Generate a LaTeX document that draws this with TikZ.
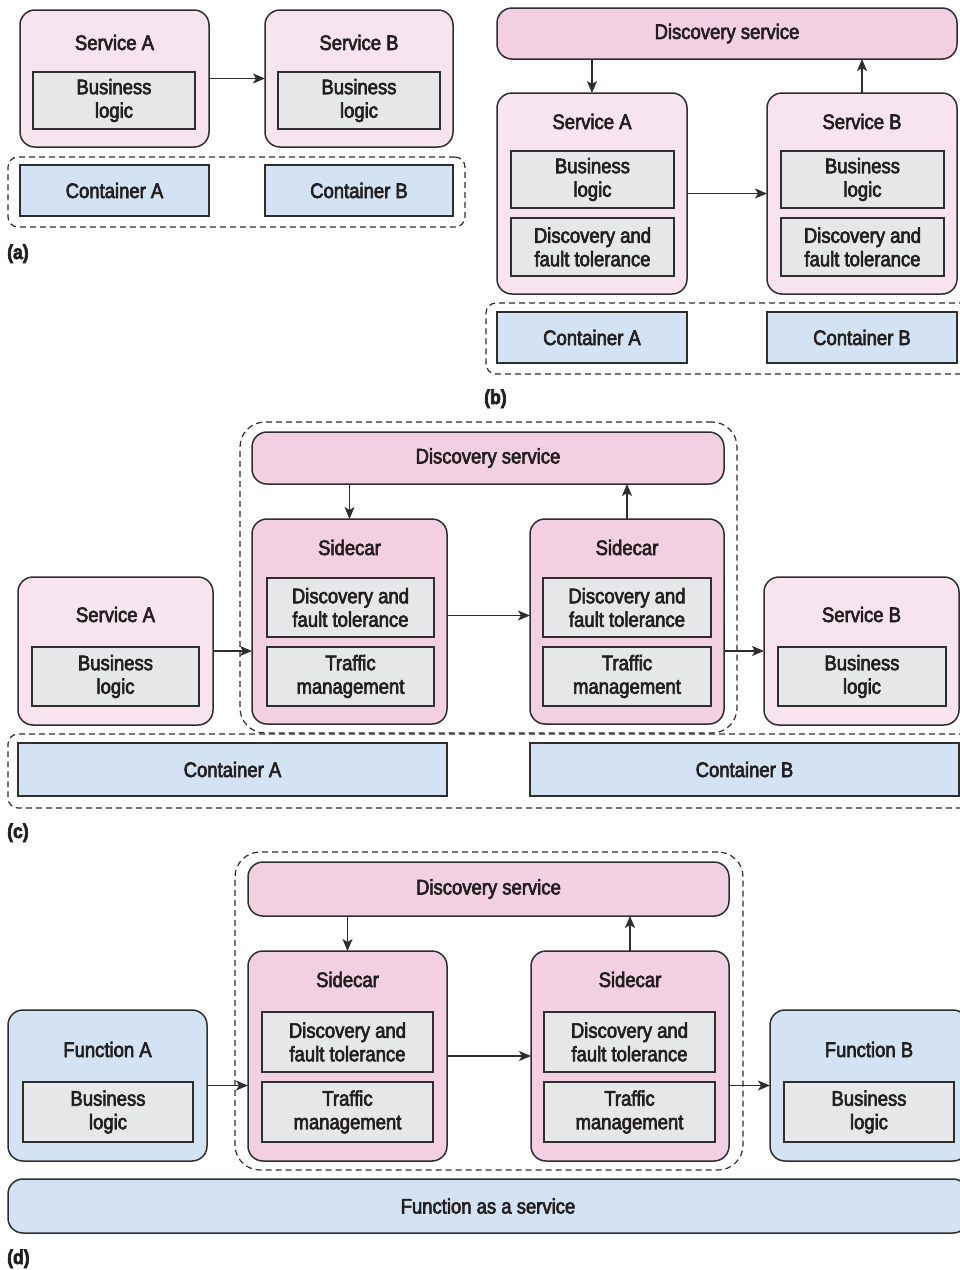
\documentclass[tikz,border=0pt]{standalone}
\usepackage{fontspec}
\setmainfont{Liberation Sans}[FakeStretch=0.88,FakeBold=3]
\usetikzlibrary{arrows.meta}
\definecolor{pinkA}{HTML}{F8E4EE}
\definecolor{pinkB}{HTML}{F2D0E1}
\definecolor{greyC}{HTML}{E6E7E9}
\definecolor{blueC}{HTML}{D3E3F3}
\definecolor{edgec}{HTML}{2E2E2E}
\definecolor{txtc}{HTML}{231F20}
\newcommand\mybox[7]{\node[#1, minimum width={(#5-#3)*1pt}, minimum height={(#6-#4)*1pt}] (#2) at ({(#3+#5)/2},{(#4+#6)/2}) {#7};}
\tikzset{
  basebox/.style={draw=edgec, line width=1.5pt, inner sep=0pt, outer sep=0pt, text=txtc,
    font=\fontsize{21}{23.5}\selectfont, align=center},
  svc/.style={basebox, fill=pinkA, rounded corners=15pt},
  side/.style={basebox, fill=pinkB, rounded corners=15pt},
  fun/.style={basebox, fill=blueC, rounded corners=15pt},
  innerbox/.style={basebox, fill=greyC},
  cont/.style={basebox, fill=blueC},
  grp/.style={draw=edgec, line width=1.2pt, dash pattern=on 6pt off 4pt, rounded corners=10pt,
    inner sep=0pt, outer sep=0pt},
  ttl/.style={text=txtc, font=\fontsize{21}{23.5}\selectfont, inner sep=0pt, anchor=base},
  plabel/.style={text=txtc, font=\bfseries\fontsize{20}{24}\selectfont, anchor=base west, inner sep=0pt},
  arr/.style={draw=edgec, line width=1.4pt, -{Stealth[length=12pt,width=10pt,inset=3pt]}}
}
\begin{document}
\begin{tikzpicture}[x=1pt,y=-1pt]
\useasboundingbox (0,0) rectangle (960,1270);
\clip (0,0) rectangle (960,1270);
% ---------- (a)
\mybox{grp}{ga}{8}{157}{465}{227}{}
\mybox{svc}{sA}{20}{10}{209}{147}{}
\node[ttl] (sAt) at (114.5,50) {Service A};
\mybox{innerbox}{blA}{33}{72}{195}{129}{Business\\logic}
\mybox{svc}{sB}{265}{10}{453}{147}{}
\node[ttl] (sBt) at (359,50) {Service B};
\mybox{innerbox}{blB}{278}{72}{440}{129}{Business\\logic}
\mybox{cont}{cA}{20}{165}{209}{216}{Container A}
\mybox{cont}{cB}{265}{165}{453}{216}{Container B}
\draw[arr] (sA) -- (sB);
\node[plabel] (la) at (7,259) {(a)};
% ---------- (b)
\mybox{grp}{gb}{486}{303}{975}{374}{}
\mybox{side}{dB}{497}{8}{957}{59}{Discovery service}
\mybox{svc}{sA2}{497}{93}{687}{294}{}
\node[ttl] (sA2t) at (592,129) {Service A};
\mybox{innerbox}{blA2}{511}{151}{674}{208}{Business\\logic}
\mybox{innerbox}{dfA2}{511}{218}{674}{276}{Discovery and\\fault tolerance}
\mybox{svc}{sB2}{767}{93}{957}{294}{}
\node[ttl] (sB2t) at (862,129) {Service B};
\mybox{innerbox}{blB2}{781}{151}{944}{208}{Business\\logic}
\mybox{innerbox}{dfB2}{781}{218}{944}{276}{Discovery and\\fault tolerance}
\mybox{cont}{cA2}{497}{312}{687}{363}{Container A}
\mybox{cont}{cB2}{767}{312}{957}{363}{Container B}
\draw[arr] (sA2) -- (sB2);
\draw[arr] (sA2.north |- dB.south) -- (sA2.north);
\draw[arr] (sB2.north) -- (sB2.north |- dB.south);
\node[plabel] (lb) at (484,404) {(b)};
% ---------- (c)
\mybox{grp, rounded corners=25pt}{gc1}{240}{422}{737}{733}{}
\mybox{grp}{gc2}{8}{734}{975}{808}{}
\mybox{side}{dC}{252}{432}{724}{484}{Discovery service}
\mybox{side}{sc1}{252}{519}{447}{724}{}
\node[ttl] (sc1t) at (349.5,555) {Sidecar};
\mybox{innerbox}{df1}{267}{578}{434}{637}{Discovery and\\fault tolerance}
\mybox{innerbox}{tm1}{267}{647}{434}{706}{Traffic\\management}
\mybox{side}{sc2}{530}{519}{724}{724}{}
\node[ttl] (sc2t) at (627,555) {Sidecar};
\mybox{innerbox}{df2}{543}{578}{711}{637}{Discovery and\\fault tolerance}
\mybox{innerbox}{tm2}{543}{647}{711}{706}{Traffic\\management}
\mybox{svc}{sA3}{18}{577}{213}{725}{}
\node[ttl] (sA3t) at (115.5,622) {Service A};
\mybox{innerbox}{blA3}{32}{647}{199}{706}{Business\\logic}
\mybox{svc}{sB3}{764}{577}{959}{725}{}
\node[ttl] (sB3t) at (861.5,622) {Service B};
\mybox{innerbox}{blB3}{778}{647}{946}{706}{Business\\logic}
\mybox{cont}{cA3}{18}{743}{447}{796}{Container A}
\mybox{cont}{cB3}{530}{743}{959}{796}{Container B}
\draw[arr] (sA3) -- (sA3 -| sc1.west);
\draw[arr] ([yshift=6pt]sc1.east) -- ([yshift=6pt]sc2.west);
\draw[arr] (sc2.east |- sB3) -- (sB3);
\draw[arr] (sc1.north |- dC.south) -- (sc1.north);
\draw[arr] (sc2.north) -- (sc2.north |- dC.south);
\node[plabel] (lc) at (7,838) {(c)};
% ---------- (d)
\mybox{grp, rounded corners=25pt}{gd}{235}{852}{743}{1170}{}
\mybox{side}{dD}{248}{862}{729}{916}{Discovery service}
\mybox{side}{sd1}{248}{951}{447}{1161}{}
\node[ttl] (sd1t) at (347.5,987) {Sidecar};
\mybox{innerbox}{dfd1}{262}{1012}{433}{1072}{Discovery and\\fault tolerance}
\mybox{innerbox}{tmd1}{262}{1082}{433}{1142}{Traffic\\management}
\mybox{side}{sd2}{531}{951}{729}{1161}{}
\node[ttl] (sd2t) at (630,987) {Sidecar};
\mybox{innerbox}{dfd2}{544}{1012}{715}{1072}{Discovery and\\fault tolerance}
\mybox{innerbox}{tmd2}{544}{1082}{715}{1142}{Traffic\\management}
\mybox{fun}{fA}{8}{1010}{207}{1161}{}
\node[ttl] (fAt) at (107.5,1057) {Function A};
\mybox{innerbox}{blfA}{23}{1082}{193}{1142}{Business\\logic}
\mybox{fun}{fB}{770}{1010}{968}{1161}{}
\node[ttl] (fBt) at (869,1057) {Function B};
\mybox{innerbox}{blfB}{784}{1082}{954}{1142}{Business\\logic}
\mybox{fun}{faas}{8}{1179}{968}{1233}{Function as a service}
\draw[arr] (fA) -- (fA -| sd1.west);
\draw[arr] (sd1) -- (sd2);
\draw[arr] (sd2.east |- fB) -- (fB);
\draw[arr] (sd1.north |- dD.south) -- (sd1.north);
\draw[arr] (sd2.north) -- (sd2.north |- dD.south);
\node[plabel] (ld) at (7,1264) {(d)};
\end{tikzpicture}
\end{document}
